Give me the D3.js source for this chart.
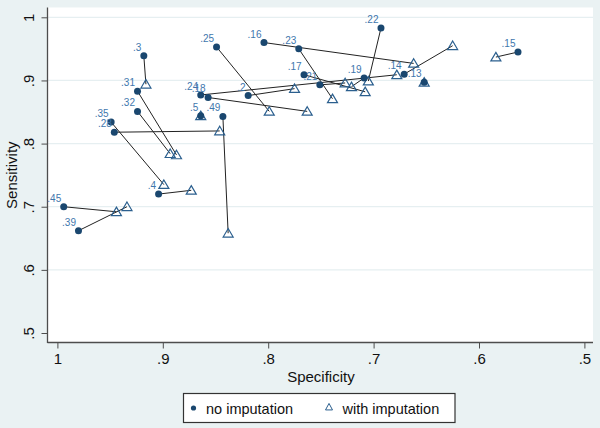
<!DOCTYPE html>
<html>
<head>
<meta charset="utf-8">
<script src="https://cdn.jsdelivr.net/npm/d3@7"></script>
<style>
html,body{margin:0;padding:0;background:#eaf2f3;}
svg{display:block;font-family:"Liberation Sans",Arial,sans-serif;}
</style>
</head>
<body>
<svg id="chart" width="600" height="428"></svg>
<script>
// ---- data ----
const cutoffs   = [".45",".39",".4",".35",".28",".32",".31",".3",".5",".49",".24",".18",".2",".25",".16",".23",".17",".21",".19",".22",".14",".13",".15"];
const specNoImp = [0.994,0.980,0.904,0.949,0.946,0.924,0.924,0.918,0.864,0.843,0.864,0.857,0.819,0.849,0.804,0.771,0.766,0.751,0.709,0.693,0.671,0.652,0.563];
const sensNoImp = [0.700,0.662,0.720,0.834,0.818,0.851,0.883,0.939,0.844,0.843,0.877,0.873,0.876,0.953,0.960,0.950,0.909,0.893,0.904,0.983,0.910,0.897,0.945];
const specImp   = [0.944,0.934,0.873,0.899,0.846,0.893,0.887,0.916,0.864,0.838,0.678,0.763,0.775,0.799,0.662,0.739,0.708,0.727,0.721,0.705,0.625,0.652,0.584];
const sensImp   = [0.692,0.700,0.726,0.735,0.820,0.784,0.782,0.894,0.844,0.658,0.909,0.851,0.887,0.851,0.927,0.871,0.882,0.896,0.890,0.899,0.955,0.897,0.937];
const xTicks = [1,0.9,0.8,0.7,0.6,0.5];
const yTicks = [0.5,0.6,0.7,0.8,0.9,1];
const legendLabels = ["no imputation","with imputation"];

const navy = "#1a476f";
const triCol = "#2b5f8e";
const labCol = "#3f77ad";
const axisCol = "#4d4d4d";

const svg = d3.select("#chart");
const plotL = 47.5, plotR = 593, plotT = 7.5, plotB = 342.5;

const x = d3.scaleLinear().domain([1,0.5]).range([57.4,584.4]);
const y = d3.scaleLinear().domain([0.5,1]).range([333,17.3]);

const fmt = v => v === 1 ? "1" : d3.format(".1f")(v).replace(/^0/,"");

// plot region
svg.append("rect").attr("x",plotL).attr("y",plotT).attr("width",plotR-plotL).attr("height",plotB-plotT).attr("fill","#ffffff");

// gridlines
svg.append("g").selectAll("line").data(yTicks.filter(d=>d>0.5)).join("line")
  .attr("x1",plotL).attr("x2",plotR)
  .attr("y1",d=>y(d)).attr("y2",d=>y(d))
  .attr("stroke","#e6eff1").attr("stroke-width",1.2);

// axes
const yAxis = d3.axisLeft(y).tickValues(yTicks).tickFormat(fmt).tickSize(6).tickPadding(3);
const gy = svg.append("g").attr("transform",`translate(${plotL},0)`).call(yAxis);
gy.select(".domain").remove();
gy.selectAll(".tick line").attr("stroke",axisCol);
gy.selectAll(".tick text").attr("fill","#111").style("font-size","15px")
  .attr("text-anchor","middle").attr("x",0).attr("dy",0)
  .attr("transform",function(){ return "translate(-14,0) rotate(-90)"; })
  .attr("y",0);

const xAxis = d3.axisBottom(x).tickValues(xTicks).tickFormat(fmt).tickSize(6).tickPadding(5);
const gx = svg.append("g").attr("transform",`translate(0,${plotB})`).call(xAxis);
gx.select(".domain").remove();
gx.selectAll(".tick line").attr("stroke",axisCol);
gx.selectAll(".tick text").attr("fill","#111").style("font-size","15px");

svg.append("line").attr("x1",plotL).attr("x2",plotL).attr("y1",plotT).attr("y2",plotB+0.5).attr("stroke",axisCol).attr("stroke-width",1.3);
svg.append("line").attr("x1",plotL).attr("x2",plotR).attr("y1",plotB).attr("y2",plotB).attr("stroke",axisCol).attr("stroke-width",1.3);

// axis titles
svg.append("text").attr("x",(x(1)+x(0.5))/2).attr("y",382).attr("text-anchor","middle")
  .style("font-size","15px").attr("fill","#111").text("Specificity");
svg.append("text").attr("transform",`translate(17,${(y(1)+y(0.5))/2}) rotate(-90)`).attr("text-anchor","middle")
  .style("font-size","15px").attr("fill","#111").text("Sensitivity");

const triPath = (w,h) => `M0,${-h*0.55}L${w/2},${h*0.45}L${-w/2},${h*0.45}Z`;
const idx = d3.range(cutoffs.length);

// connecting segments
svg.append("g").selectAll("line").data(idx).join("line")
  .attr("x1",i=>x(specNoImp[i])).attr("y1",i=>y(sensNoImp[i]))
  .attr("x2",i=>x(specImp[i])).attr("y2",i=>y(sensImp[i]))
  .attr("stroke","#222").attr("stroke-width",1);

// triangles (with imputation)
svg.append("g").selectAll("path").data(idx).join("path")
  .attr("d",triPath(10,8.5))
  .attr("transform",i=>`translate(${x(specImp[i])},${y(sensImp[i])})`)
  .attr("fill","none").attr("stroke",triCol).attr("stroke-width",1.2);

// dots (no imputation)
svg.append("g").selectAll("circle").data(idx).join("circle")
  .attr("cx",i=>x(specNoImp[i])).attr("cy",i=>y(sensNoImp[i])).attr("r",3.5)
  .attr("fill",navy);

// labels
svg.append("g").selectAll("text").data(idx).join("text")
  .attr("x",i=>x(specNoImp[i])-2.5).attr("y",i=>y(sensNoImp[i])-5)
  .attr("text-anchor","end").style("font-size","10px").attr("fill",labCol)
  .text(i=>cutoffs[i]);

// legend
const lg = svg.append("g");
lg.append("rect").attr("x",183.5).attr("y",393.5).attr("width",271.5).attr("height",29)
  .attr("fill","#fff").attr("stroke","#333").attr("stroke-width",1.2);
lg.append("circle").attr("cx",193.5).attr("cy",408).attr("r",2.6).attr("fill",navy);
lg.append("text").attr("x",206).attr("y",413.5).style("font-size","14.5px").attr("fill","#111").text(legendLabels[0]);
lg.append("path").attr("d",triPath(7,6.5)).attr("transform","translate(329,407)")
  .attr("fill","none").attr("stroke",triCol).attr("stroke-width",1);
lg.append("text").attr("x",342.5).attr("y",413.5).style("font-size","14.5px").attr("fill","#111").text(legendLabels[1]);
</script>
</body>
</html>
